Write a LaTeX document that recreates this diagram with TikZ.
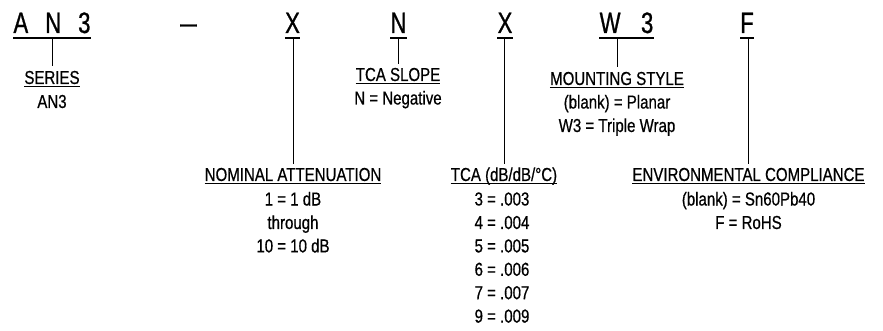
\documentclass[tikz,border=0pt]{standalone}
\usepackage{fontspec}
\setmainfont{Liberation Sans}[FakeStretch=0.8,FakeBold=0.6]
\newfontfamily\codefont{Liberation Sans}[FakeStretch=0.75,FakeBold=0.8]
\usetikzlibrary{calc}
\tikzset{
 code/.style={font=\codefont\fontsize{29.5}{31}\selectfont, inner sep=0pt, anchor=base},
 lbl/.style={font=\fontsize{18.8}{22}\selectfont, inner sep=0pt, anchor=base},
 culine/.style={line width=1.6pt},
 luline/.style={line width=1pt},
 lead/.style={line width=0.9pt},
}
\begin{document}
\begin{tikzpicture}[x=1pt,y=-1pt]
\useasboundingbox (0,0) rectangle (883,331);
% code letters
\node[code] (an) at (52,33) {A\hspace{17pt}N\hspace{17pt}3};
\node[code] (dash) at (188.5,33) {\scalebox{1.35}[1]{–}};
\node[code] (x1) at (292.5,33) {X};
\node[code] (n) at (398.5,33) {N};
\node[code] (x2) at (505,33) {X};
\node[code] (w3) at (626.5,33) {W\hspace{20.5pt}3};
\node[code] (f) at (747,33) {F};
\foreach \c in {an,x1,n,x2,w3,f}
  \draw[culine] ($(\c.base west)+(0,5)$) -- ($(\c.base east)+(0,5)$);
% labels
\node[lbl] (series) at (52,84) {SERIES};
\node[lbl] (an3) at (52,108) {AN3};
\node[lbl] (tcaslope) at (398,81) {TCA SLOPE};
\node[lbl] (neg) at (398,104.5) {N = Negative};
\node[lbl] (mount) at (617,85) {MOUNTING STYLE};
\node[lbl] (planar) at (617,108.5) {(blank) = Planar};
\node[lbl] (triple) at (617,132) {W3 = Triple Wrap};
\node[lbl] (nominal) at (293,181) {NOMINAL ATTENUATION};
\node[lbl] (nom1) at (293,205.5) {1 = 1 dB};
\node[lbl] (nom2) at (293,229) {through};
\node[lbl] (nom3) at (293,252.4) {10 = 10 dB};
\node[lbl] (tca) at (504,181) {TCA (dB/dB/°C)};
\node[lbl] (tca3) at (502,205.5) {3 = .003};
\node[lbl] (tca4) at (502,229) {4 = .004};
\node[lbl] (tca5) at (502,252.4) {5 = .005};
\node[lbl] (tca6) at (502,275.8) {6 = .006};
\node[lbl] (tca7) at (502,299.2) {7 = .007};
\node[lbl] (tca9) at (502,322.6) {9 = .009};
\node[lbl] (env) at (748.5,181) {ENVIRONMENTAL COMPLIANCE};
\node[lbl] (env1) at (748.5,205.5) {(blank) = Sn60Pb40};
\node[lbl] (env2) at (748.5,229) {F = RoHS};
\foreach \c in {series,tcaslope,mount,nominal,tca,env}
  \draw[luline] ($(\c.base west)+(0,2.5)$) -- ($(\c.base east)+(0,2.5)$);
% leads
\draw[lead] ($(an.base -| series.north)+(0,5)$) -- ($(series.north)+(0,-5)$);
\draw[lead] ($(x1.base -| nominal.north)+(0,5)$) -- ($(nominal.north)+(0,-3.5)$);
\draw[lead] ($(n.base -| tcaslope.north)+(0,5)$) -- ($(tcaslope.north)+(0,-4)$);
\draw[lead] ($(x2.base -| tca.north)+(0,5)$) -- ($(tca.north)+(0,-3)$);
\draw[lead] ($(w3.base -| mount.north)+(0,5)$) -- ($(mount.north)+(0,-5)$);
\draw[lead] ($(f.base -| env.north)+(0,5)$) -- ($(env.north)+(0,-3.5)$);
\end{tikzpicture}
\end{document}
